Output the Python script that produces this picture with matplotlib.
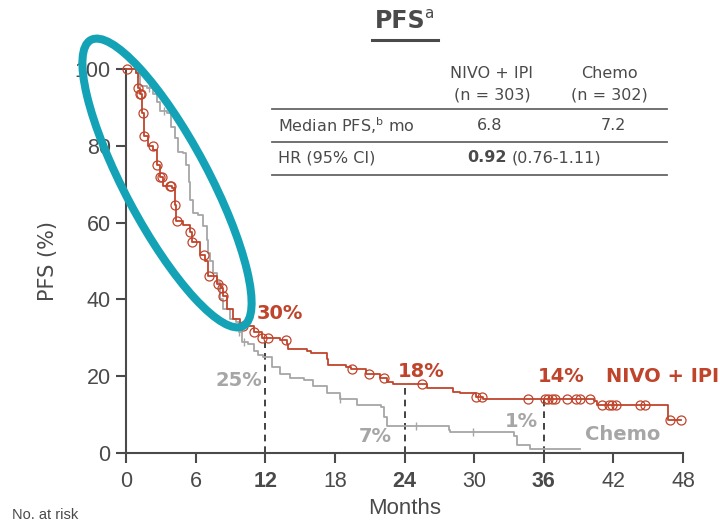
import numpy as np
import matplotlib.pyplot as plt
from matplotlib.patches import Ellipse
from matplotlib.lines import Line2D

# Kaplan-Meier step data (months, % progression-free)
nivo_t = [0, 0.9, 1.05, 1.2, 1.4, 1.55, 1.9, 2.35, 2.65, 2.9, 3.2, 4.0, 4.2, 4.35, 4.9, 5.5, 5.7,
          6.4, 6.8, 7.1, 7.8, 8.2, 8.4, 8.7, 9.25, 9.8, 11.0, 11.7, 13.3, 13.9, 14.0, 15.6, 15.9,
          17.3, 17.4, 19.0, 19.4, 20.7, 21.9, 22.5, 23.0, 25.9, 28.2, 28.8, 30.2, 30.8, 40.3, 40.6,
          46.7, 47.8]
nivo_s = [100, 99, 95, 93.5, 88.5, 82.5, 80, 79, 75, 72, 69.5, 69, 64.5, 60.5, 59.5, 57.5, 55,
          51.5, 50, 46, 44, 43, 41, 37.5, 35, 33, 31.5, 30, 29.5, 28.5, 27, 26.5, 26,
          24.5, 23, 22.5, 22, 20.5, 19.5, 18.5, 18, 17, 16, 15.5, 14.5, 14, 13.5, 12.5,
          8.5, 8.5]
nivo_censor = [0.05, 1.05, 1.2, 1.3, 1.45, 1.55, 2.3, 2.65, 2.9, 3.1, 3.8, 3.9, 4.2, 4.4, 5.5, 5.7,
               6.7, 7.15, 7.9, 8.25, 8.4, 10.1, 11.0, 11.7, 12.2, 13.8, 19.5, 20.9, 22.2, 25.5,
               30.2, 30.7, 34.6, 36.1, 36.4, 36.7, 37.0, 38.0, 38.8, 39.1, 40.0, 41.0, 41.6,
               41.9, 42.2, 44.3, 44.7, 46.9, 47.8]

chemo_t = [0, 0.9, 1.2, 1.8, 2.35, 2.65, 2.9, 3.5, 3.9, 4.2, 4.5, 4.9, 5.2, 5.4, 5.5, 5.8, 6.2,
           6.65, 6.95, 7.1, 7.25, 7.5, 7.8, 8.1, 8.4, 9.0, 9.5, 9.7, 10.0, 10.5, 11.0, 11.4, 11.8,
           12.6, 13.3, 14.1, 15.3, 16.1, 17.3, 18.4, 19.9, 22.0, 22.2, 22.5, 27.8, 27.9, 33.4,
           33.7, 34.8, 39.1]
chemo_s = [100, 99, 95.5, 95, 93.5, 91.5, 89, 88.5, 85, 82, 78.5, 78, 75, 70.5, 66, 62.5, 62,
           59, 55.5, 52, 50, 47, 44.5, 40, 37.5, 35, 34, 31.5, 29, 28.5, 26.5, 25.5, 25,
           22.5, 20.5, 19.5, 19, 17.5, 15.5, 14, 12.5, 12, 9.5, 7, 6, 5.5, 4.5,
           2, 1, 1]
chemo_censor = [1.0, 2.0, 3.3, 9.7, 10.2, 18.4, 25.0, 29.9]

landmark_months = [12, 24, 36]
nivo_landmark = [30, 18, 14]
chemo_landmark = [25, 7, 1]

x_ticks = [0, 6, 12, 18, 24, 30, 36, 42, 48]
y_ticks = [0, 20, 40, 60, 80, 100]

RED = '#C0442B'
GRAY = '#A6A6A6'
DARK = '#4A4A4A'
TEAL = '#14A3B6'
NARROW = ['Liberation Sans', 'DejaVu Sans']


def step_value(t, s, x):
    idx = np.searchsorted(t, x, side='right') - 1
    return np.asarray(s)[idx]


fig = plt.figure(figsize=(7.2, 5.26), dpi=100)
ax = fig.add_axes([126 / 720, 73 / 526, 557 / 720, 384 / 526])

ax.step(chemo_t, chemo_s, where='post', color=GRAY, lw=1.3, clip_on=False, zorder=2)
ax.plot(chemo_censor, step_value(chemo_t, chemo_s, chemo_censor), ls='none', marker='|',
        ms=6, mew=1.0, color=GRAY, clip_on=False, zorder=2)

ax.step(nivo_t, nivo_s, where='post', color=RED, lw=1.3, clip_on=False, zorder=3)
ax.plot(nivo_censor, step_value(nivo_t, nivo_s, nivo_censor), ls='none', marker='o',
        ms=6.5, mfc='none', mew=0.9, color=RED, clip_on=False, zorder=3)

# landmark drop lines
for m, v in zip(landmark_months, nivo_landmark):
    ax.plot([m, m], [0, v], ls=(0, (4, 3)), color='#222222', lw=1.2, zorder=1)

ax.set_xlim(0, 48)
ax.set_ylim(0, 100)
for side in ['top', 'right']:
    ax.spines[side].set_visible(False)
for side in ['left', 'bottom']:
    ax.spines[side].set_color(DARK)
    ax.spines[side].set_linewidth(1.5)

ax.set_xticks(x_ticks)
ax.set_yticks(y_ticks)
ax.tick_params(axis='both', direction='out', length=7, width=1.5, color=DARK,
               labelcolor=DARK, labelsize=15.5)
ax.tick_params(axis='x', pad=6)
ax.tick_params(axis='y', pad=4)
ax.set_xticklabels([str(v) for v in x_ticks], family=NARROW)
ax.set_yticklabels([str(v) for v in y_ticks], family=NARROW)
for lab, v in zip(ax.get_xticklabels(), x_ticks):
    if v in landmark_months:
        lab.set_fontweight('bold')

ax.set_ylabel('PFS (%)', fontsize=15, color=DARK, labelpad=12)
ax.set_xlabel('Months', fontsize=16, color=DARK, family=NARROW, labelpad=4)

# landmark annotations
ax.text(13.3, 36.2, f'{nivo_landmark[0]}%', color=RED, fontsize=14, fontweight='bold', ha='center', va='center')
ax.text(25.4, 21.1, f'{nivo_landmark[1]}%', color=RED, fontsize=14, fontweight='bold', ha='center', va='center')
ax.text(37.5, 19.8, f'{nivo_landmark[2]}%', color=RED, fontsize=14, fontweight='bold', ha='center', va='center')
ax.text(46.2, 19.8, 'NIVO + IPI', color=RED, fontsize=14, fontweight='bold', ha='center', va='center')
ax.text(9.7, 19.0, f'{chemo_landmark[0]}%', color=GRAY, fontsize=14, fontweight='bold', ha='center', va='center')
ax.text(21.5, 4.2, f'{chemo_landmark[1]}%', color=GRAY, fontsize=14, fontweight='bold', ha='center', va='center')
ax.text(34.1, 8.1, f'{chemo_landmark[2]}%', color=GRAY, fontsize=14, fontweight='bold', ha='center', va='center')
ax.text(42.8, 4.7, 'Chemo', color=GRAY, fontsize=14, fontweight='bold', ha='center', va='center')


def fy(py):
    return 1 - py / 526


# title with underline
fig.text(400 / 720, fy(21), 'PFS', fontsize=17, fontweight='bold', color=DARK, ha='center', va='center')
fig.text(424 / 720, fy(13), 'a', fontsize=11, color=DARK, ha='left', va='center')
fig.add_artist(Line2D([372 / 720, 438 / 720], [fy(40), fy(40)], color=DARK, lw=2.2))

# summary table
tbl_kw = dict(fontsize=11.5, color=DARK, va='center')
fig.text(492 / 720, fy(74), 'NIVO + IPI', ha='center', **tbl_kw)
fig.text(492 / 720, fy(95), '(n = 303)', ha='center', **tbl_kw)
fig.text(609 / 720, fy(74), 'Chemo', ha='center', **tbl_kw)
fig.text(609 / 720, fy(95), '(n = 302)', ha='center', **tbl_kw)
fig.text(278 / 720, fy(126), r'Median PFS,$^{\mathregular{b}}$ mo', ha='left', **tbl_kw)
fig.text(490 / 720, fy(126), '6.8', ha='center', **tbl_kw)
fig.text(613 / 720, fy(126), '7.2', ha='center', **tbl_kw)
fig.text(278 / 720, fy(158), 'HR (95% CI)', ha='left', **tbl_kw)
fig.text(507 / 720, fy(158), '0.92', ha='right', fontweight='bold', **tbl_kw)
fig.text(512 / 720, fy(158), '(0.76-1.11)', ha='left', **tbl_kw)
for py in [109, 142, 175]:
    fig.add_artist(Line2D([272 / 720, 667 / 720], [fy(py), fy(py)], color='#666666', lw=1.3))

fig.text(12 / 720, fy(515), 'No. at risk', fontsize=10.5, color=DARK, family=NARROW, ha='left', va='center')

# highlight ring around the early separation of the curves
ring = Ellipse((1.67, 5.26 - 1.83), 3.24, 0.84, angle=-62, fill=False, ec=TEAL, lw=5.8,
               transform=fig.dpi_scale_trans, zorder=10)
fig.add_artist(ring)

fig.savefig('out.png', dpi=100)
